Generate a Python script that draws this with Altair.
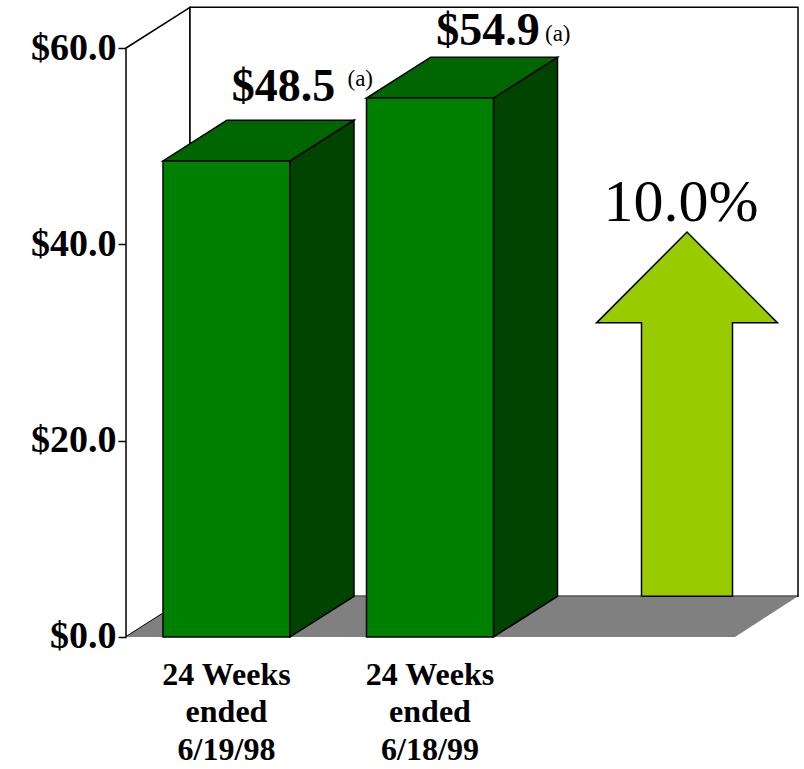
import altair as alt
import pandas as pd

# ---------------- data ----------------
periods = ["24 Weeks\nended\n6/19/98", "24 Weeks\nended\n6/18/99"]
sales = [48.5, 54.9]
value_labels = ["$48.5", "$54.9"]
note = "(a)"
growth_label = "10.0%"
y_ticks = [0, 20, 40, 60]

# ---------------- layout constants ----------------
W, H = 804, 769
LEFT = 126                      # front axis position in the page
VIEW_W = W - LEFT
Y_MIN, Y_MAX = -13.45, 64.89    # value domain covering the whole page height
PX = H / (Y_MAX - Y_MIN)        # pixels per value unit
DX = 64                         # depth offset (x units = px)
DY = 4.15                       # depth offset (value units)
AXIS_TOP = 60
FLOOR_W = 609
BAR_W = 127
BAR_C = [100.5, 304]            # front-face centres
LABEL_DX = [57, 58]
LABEL_RAISE_PX = [19, 12]
NOTE_DX = [64, 57]
NOTE_RAISE_PX = [34, 16]
ARROW_C = 561
ARROW_SHAFT = 45.5
ARROW_HEAD = 90.5
ARROW_NECK = 32.0
ARROW_TIP = 41.25

FRONT = "#008000"
TOP = "#006600"
SIDE = "#004400"
FLOOR = "#808080"
ARROW = "#99CC00"
SERIF = "Times New Roman, Liberation Serif, serif"

xs = alt.Scale(domain=[0, VIEW_W], nice=False, zero=False)
ys = alt.Scale(domain=[Y_MIN, Y_MAX], nice=False, zero=False)
yaxis = alt.Axis(values=y_ticks, format="$.1f", domain=False, grid=False,
                 ticks=True, tickSize=8, tickColor="black", tickWidth=1.5,
                 labelFont=SERIF, labelFontWeight="bold", labelFontSize=38,
                 labelColor="black", labelPadding=2, title=None)


def X(f):
    return alt.X(f, type="quantitative", scale=xs, axis=None)


def Y(f):
    return alt.Y(f, type="quantitative", scale=ys, axis=yaxis)


# left wall (parallelogram)
left_wall = pd.DataFrame({"x": [0, DX], "y": [0, DY], "y2": [AXIS_TOP, AXIS_TOP + DY]})
left_layer = alt.Chart(left_wall).mark_area(fill="white", stroke="black", strokeWidth=1.5).encode(
    x=X("x"), y=Y("y"), y2="y2")

# back wall
back_wall = pd.DataFrame({"x": [DX], "x2": [DX + FLOOR_W - 1], "y": [DY], "y2": [AXIS_TOP + DY]})
back_layer = alt.Chart(back_wall).mark_rect(fill="white", stroke="black", strokeWidth=1.5).encode(
    x=X("x"), x2="x2", y=Y("y"), y2="y2")

# floor
floor = pd.DataFrame({"y": [0, DY], "x": [0, DX], "x2": [FLOOR_W, FLOOR_W + DX - 1]})
floor_layer = alt.Chart(floor).mark_area(orient="horizontal", fill=FLOOR).encode(
    y=Y("y"), x=X("x"), x2="x2")

# arrow polygon
ax = [ARROW_C - ARROW_SHAFT, ARROW_C - ARROW_SHAFT, ARROW_C - ARROW_HEAD, ARROW_C,
      ARROW_C + ARROW_HEAD, ARROW_C + ARROW_SHAFT, ARROW_C + ARROW_SHAFT, ARROW_C - ARROW_SHAFT]
ay = [DY, ARROW_NECK, ARROW_NECK, ARROW_TIP, ARROW_NECK, ARROW_NECK, DY, DY]
arrow = pd.DataFrame({"x": ax, "y": ay, "o": list(range(len(ax)))})
arrow_layer = alt.Chart(arrow).mark_line(fill=ARROW, stroke="black", strokeWidth=1.5,
                                         strokeJoin="miter").encode(
    x=X("x"), y=Y("y"), order="o:O")

# bars
side_rows, top_rows, front_rows = [], [], []
for i, (c, v) in enumerate(zip(BAR_C, sales)):
    r = c + BAR_W / 2
    l = c - BAR_W / 2
    side_rows += [{"bar": i, "x": r, "y": 0, "y2": v},
                  {"bar": i, "x": r + DX, "y": DY, "y2": v + DY}]
    top_rows += [{"bar": i, "y": v, "x": l, "x2": r},
                 {"bar": i, "y": v + DY, "x": l + DX, "x2": r + DX}]
    front_rows.append({"bar": i, "x": l, "x2": r, "y": 0, "y2": v})

side_layer = alt.Chart(pd.DataFrame(side_rows)).mark_area(fill=SIDE, stroke="black", strokeWidth=1.5).encode(
    x=X("x"), y=Y("y"), y2="y2", detail="bar:N")
top_layer = alt.Chart(pd.DataFrame(top_rows)).mark_area(orient="horizontal", fill=TOP, stroke="black",
                                                        strokeWidth=1.5).encode(
    y=Y("y"), x=X("x"), x2="x2", detail="bar:N")
front_layer = alt.Chart(pd.DataFrame(front_rows)).mark_rect(fill=FRONT, stroke="black", strokeWidth=1.5).encode(
    x=X("x"), x2="x2", y=Y("y"), y2="y2")

# value labels
vl = pd.DataFrame({"x": [c + d for c, d in zip(BAR_C, LABEL_DX)],
                   "y": [v + DY + r / PX for v, r in zip(sales, LABEL_RAISE_PX)],
                   "t": value_labels})
val_layer = alt.Chart(vl).mark_text(font=SERIF, fontWeight="bold", fontSize=46, baseline="alphabetic",
                                    align="center", color="black").encode(
    x=X("x"), y=Y("y"), text="t:N")
nl = pd.DataFrame({"x": [c + d + e for c, d, e in zip(BAR_C, LABEL_DX, NOTE_DX)],
                   "y": [v + DY + r / PX for v, r in zip(sales, NOTE_RAISE_PX)],
                   "t": [note, note]})
note_layer = alt.Chart(nl).mark_text(font=SERIF, fontSize=23, baseline="alphabetic", align="left",
                                     color="black").encode(
    x=X("x"), y=Y("y"), text="t:N")

# growth label
gl = pd.DataFrame({"x": [ARROW_C - 6], "y": [ARROW_TIP], "t": [growth_label]})
growth_layer = alt.Chart(gl).mark_text(font=SERIF, fontSize=60, baseline="alphabetic", align="center",
                                       dy=-11, color="black").encode(
    x=X("x"), y=Y("y"), text="t:N")

# category labels
cl = pd.DataFrame({"x": BAR_C, "y": [0, 0], "t": [p.split("\n") for p in periods]})
cat_layer = alt.Chart(cl).mark_text(font=SERIF, fontWeight="bold", fontSize=32, baseline="alphabetic",
                                    align="center", lineHeight=37.5, dy=48, color="black").encode(
    x=X("x"), y=Y("y"), text="t")

chart = alt.layer(
    left_layer, back_layer, floor_layer, arrow_layer,
    side_layer, top_layer, front_layer,
    val_layer, note_layer, growth_layer, cat_layer,
).properties(
    width=VIEW_W, height=H,
    padding={"left": LEFT, "top": 0, "right": 0, "bottom": 0},
    autosize="none",
    background="white",
).configure_view(stroke=None)

chart.save("out.html", embed_options={"renderer": "svg", "actions": False})
